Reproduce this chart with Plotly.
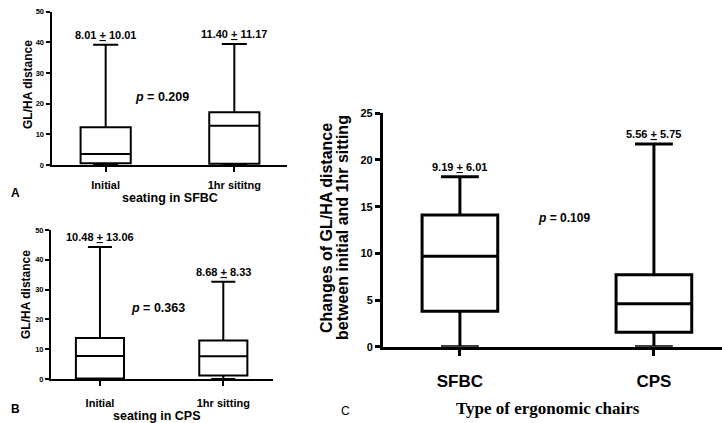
import plotly.graph_objects as go

# ---------------- data ----------------
a_categories = ["Initial", "1hr sititng"]
a_lower = [0.0, 0.0]
a_q1 = [0.6, 0.4]
a_median = [3.6, 12.8]
a_q3 = [12.3, 17.2]
a_upper = [39.2, 39.5]
a_labels = ["8.01 <u>+</u> 10.01", "11.40 <u>+</u> 11.17"]
a_p = "0.209"

b_categories = ["Initial", "1hr sitting"]
b_lower = [0.0, 0.0]
b_q1 = [0.2, 1.2]
b_median = [7.7, 7.6]
b_q3 = [13.8, 12.9]
b_upper = [44.3, 32.6]
b_labels = ["10.48 <u>+</u> 13.06", "8.68 <u>+</u> 8.33"]
b_p = "0.363"

c_categories = ["SFBC", "CPS"]
c_lower = [0.0, 0.0]
c_q1 = [3.8, 1.55]
c_median = [9.7, 4.6]
c_q3 = [14.1, 7.7]
c_upper = [18.2, 21.7]
c_labels = ["9.19 <u>+</u> 6.01", "5.56 <u>+</u> 5.75"]
c_p = "0.109"

W, H = 722, 423
SANS = "Liberation Sans, Arial, sans-serif"
SERIF = "Liberation Serif, Times New Roman, serif"


def px(x):
    return x / W


def py(y):
    return 1 - y / H


fig = go.Figure()


def add_box(cats, lo, q1, med, q3, hi, xa, ya, lw):
    fig.add_trace(go.Box(
        x=cats, lowerfence=lo, q1=q1, median=med, q3=q3, upperfence=hi,
        xaxis=xa, yaxis=ya, boxpoints=False, width=0.39, whiskerwidth=0.5,
        fillcolor="white", line=dict(color="black", width=lw),
        showlegend=False, hoverinfo="skip"))


add_box(a_categories, a_lower, a_q1, a_median, a_q3, a_upper, "x", "y", 2)
add_box(b_categories, b_lower, b_q1, b_median, b_q3, b_upper, "x2", "y2", 2)
add_box(c_categories, c_lower, c_q1, c_median, c_q3, c_upper, "x3", "y3", 3)

ann = []


def value_labels(cats, hi, labels, xr, yr, size, shift):
    for c, v, t in zip(cats, hi, labels):
        ann.append(dict(x=c, y=v, xref=xr, yref=yr, text="<b>" + t + "</b>",
                        showarrow=False, yanchor="middle", yshift=shift,
                        font=dict(family=SANS, size=size, color="black")))


value_labels(a_categories, a_upper, a_labels, "x", "y", 11, 10)
value_labels(b_categories, b_upper, b_labels, "x2", "y2", 11, 10)
value_labels(c_categories, c_upper, c_labels, "x3", "y3", 11, 10)


def paper_text(x, y, text, size, family=SANS, angle=0, color="black"):
    ann.append(dict(x=px(x), y=py(y), xref="paper", yref="paper", text=text,
                    showarrow=False, xanchor="center", yanchor="middle",
                    textangle=angle, font=dict(family=family, size=size, color=color)))


paper_text(162, 97, "<b><i>p</i> = " + a_p + "</b>", 12.5)
paper_text(158, 308, "<b><i>p</i> = " + b_p + "</b>", 12.5)
paper_text(564, 218, "<b><i>p</i> = " + c_p + "</b>", 12)

paper_text(28, 84, "<b>GL/HA distance</b>", 12, angle=-90)
paper_text(26, 295, "<b>GL/HA distance</b>", 12, angle=-90)
paper_text(326, 228, "<b>Changes of GL/HA distance</b>", 16, angle=-90)
paper_text(342, 228, "<b>between initial and 1hr sitting</b>", 16, angle=-90)

paper_text(170, 198, "<b>seating in SFBC</b>", 12.5)
paper_text(157, 416, "<b>seating in CPS</b>", 12.5)
paper_text(548, 408, "<b>Type of ergonomic chairs</b>", 17, family=SERIF)

paper_text(15, 193, "<b>A</b>", 12)
paper_text(15, 409, "<b>B</b>", 12)
paper_text(345, 411, "C", 12)


def xaxis(dom, rng, size, standoff, lw, tl, anchor):
    return dict(domain=dom, range=rng, type="category", showline=True,
                linecolor="black", linewidth=lw, ticks="outside", ticklen=tl,
                tickwidth=lw, tickcolor="black", showgrid=False, zeroline=False,
                ticklabelstandoff=standoff, fixedrange=True, automargin=False,
                anchor=anchor,
                tickfont=dict(family=SANS, size=size, color="black", weight="bold"))


def yaxis(dom, rng, dtick, size, lw, tl, anchor):
    return dict(domain=dom, range=rng, dtick=dtick, tick0=0, showline=True,
                linecolor="black", linewidth=lw, ticks="outside", ticklen=tl,
                tickwidth=lw, tickcolor="black", showgrid=False, zeroline=False,
                anchor=anchor, fixedrange=True, automargin=False,
                tickfont=dict(family=SANS, size=size, color="black", weight="bold"))


fig.update_layout(
    template="none",
    width=W, height=H, margin=dict(l=0, r=0, t=0, b=0, autoexpand=False),
    paper_bgcolor="white", plot_bgcolor="white",
    xaxis=xaxis([px(51.5), px(286.7)], [-0.421, 1.407], 11, 4, 2, 5, "y"),
    yaxis=yaxis([py(165), py(11.7)], [0, 50], 10, 7.5, 2, 4, "x"),
    xaxis2=xaxis([px(51), px(273)], [-0.397, 1.403], 11, 8, 2, 5, "y2"),
    yaxis2=yaxis([py(379), py(230)], [0, 50], 10, 7.5, 2, 4, "x2"),
    xaxis3=xaxis([px(382.7), px(722)], [-0.398, 1.351], 17, 10, 2.5, 7, "y3"),
    yaxis3=yaxis([py(346.7), py(113.3)], [0, 25], 5, 11, 2.5, 5, "x3"),
    annotations=ann,
)

fig.write_html(
    "out.html",
    config={"displayModeBar": False},
    post_script="document.body.style.margin='0';document.body.style.overflow='hidden';",
)
